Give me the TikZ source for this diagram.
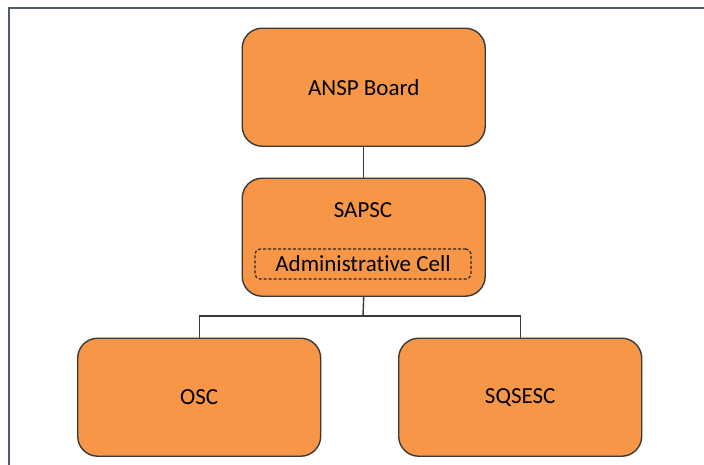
\documentclass[tikz,border=0pt]{standalone}
\usepackage{fontspec}
\setmainfont[Ligatures={NoCommon}]{Carlito}
\definecolor{boxfill}{HTML}{F79646}
\definecolor{boxline}{HTML}{3A3A3A}
\definecolor{framecol}{HTML}{4E5A6A}
\begin{document}
\begin{tikzpicture}[x=1pt,y=-1pt,
  orgbox/.style={draw=boxline, line width=1.4pt, fill=boxfill, rounded corners=20pt,
    minimum width=243pt, minimum height=118pt, inner sep=0pt, font=\fontsize{23}{27}\selectfont, anchor=north west},
  cellbox/.style={draw=black!85, dash pattern=on 3pt off 2pt, line width=1.2pt, rounded corners=5pt,
    minimum width=216pt, minimum height=30pt, inner sep=0pt, font=\fontsize{23}{27}\selectfont},
  conn/.style={draw=boxline, line width=1.4pt}]
\useasboundingbox (0,0) rectangle (704,464);
\fill[white] (0,0) rectangle (704,464);
\draw[framecol, line width=2pt] (9,470) -- (9,7.5) -- (710,7.5);
\node[orgbox] (ansp) at (241.5,27.5) {ANSP Board};
\node[orgbox] (sapsc) at (241.5,177.5) {};
\node[font=\fontsize{23}{27}\selectfont] (sapsclabel) at (363,210) {SAPSC};
\node[cellbox] (cell) at (363,264) {Administrative Cell};
\node[orgbox] (osc) at (77,337.5) {OSC};
\node[orgbox] (sqs) at (398,337.5) {SQSESC};
\coordinate (mid) at (363,316);
\draw[conn] (ansp.south) -- (sapsc.north);
\draw[conn] (sapsc.south) -- (mid);
\draw[conn] (osc.north) |- (mid) -| (sqs.north);
\end{tikzpicture}
\end{document}
